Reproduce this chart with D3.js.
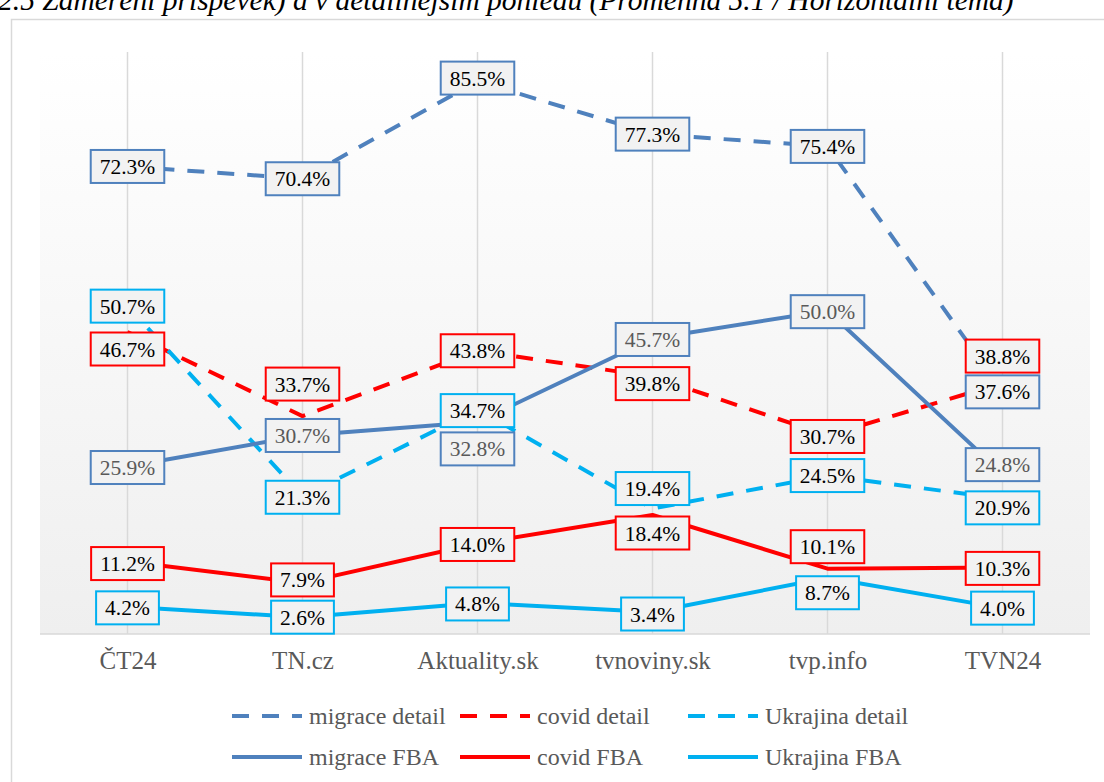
<!DOCTYPE html>
<html>
<head>
<meta charset="utf-8">
<script src="https://cdn.jsdelivr.net/npm/d3@7"></script>
<style>
  html, body { margin: 0; padding: 0; background: #fff; overflow: hidden; }
  svg text { font-family: "Liberation Serif", "Times New Roman", Tinos, "DejaVu Serif", serif !important; }
</style>
</head>
<body>
<svg id="chart" width="1104" height="782"></svg>
<script>
// data
var categories = ["ČT24", "TN.cz", "Aktuality.sk", "tvnoviny.sk", "tvp.info", "TVN24"];
var seriesNames = ["migrace detail", "covid detail", "Ukrajina detail", "migrace FBA", "covid FBA", "Ukrajina FBA"];
var migraceDetail = [72.3, 70.4, 85.5, 77.3, 75.4, 37.6];
var covidDetail = [46.7, 33.7, 43.8, 39.8, 30.7, 38.8];
var ukrajinaDetail = [50.7, 21.3, 34.7, 19.4, 24.5, 20.9];
var migraceFBA = [25.9, 30.7, 32.8, 45.7, 50.0, 24.8];
var covidFBA = [11.2, 7.9, 14.0, 18.4, 10.1, 10.3];
var ukrajinaFBA = [4.2, 2.6, 4.8, 3.4, 8.7, 4.0];
var titleText = "2.5 Zaměření příspěvek) a v detailnějším pohledu (Proměnná 5.1 / Horizontální téma)";

// label nudges (layout only, px) so boxes sit like in the original
var labelNudge = [
  [0, 0, -3, 0, 0, 1],
  [17, -32, 0, 7, 1, -27],
  [0, 1, 1, -20, 0, 9],
  [1, 0, 27, 1, 1, -9],
  [2, -3, 1, 18, -22, 1],
  [1, 0, 1, 2, 15, 0]
];

var colors = ["#4f81bd", "#ff0000", "#00b0f0", "#4f81bd", "#ff0000", "#00b0f0"];
var dashed = [true, true, true, false, false, false];
var labelTextColor = ["#000", "#000", "#000", "#595959", "#000", "#000"];
var allValues = [migraceDetail, covidDetail, ukrajinaDetail, migraceFBA, covidFBA, ukrajinaFBA];

var series = seriesNames.map((name, i) => ({
  name: name, color: colors[i], dashed: dashed[i], textColor: labelTextColor[i],
  values: allValues[i].map((v, j) => ({ cat: categories[j], v: v, nudge: labelNudge[i][j] }))
}));

var svg = d3.select("#chart");
var plot = { left: 40, right: 1090, top: 52, bottom: 634 };

// chart frame
svg.append("rect")
  .attr("x", 11.5).attr("y", 19.5).attr("width", 1200).attr("height", 900)
  .attr("fill", "#fff").attr("stroke", "#d9d9d9").attr("stroke-width", 1.5);

// title, cut off at the top edge like in the source
svg.append("text")
  .attr("x", -2).attr("y", 10)
  .attr("font-size", 29.5).attr("font-style", "italic").attr("fill", "#000")
  .text(titleText);

var x = d3.scalePoint().domain(categories).range([plot.left, plot.right]).padding(0.5);
var y = d3.scaleLinear().domain([0, 90]).range([plot.bottom, plot.top]);

// plot area gradient
var grad = svg.append("defs").append("linearGradient")
  .attr("id", "bg").attr("x1", 0).attr("y1", 0).attr("x2", 0).attr("y2", 1);
grad.append("stop").attr("offset", "0%").attr("stop-color", "#ffffff");
grad.append("stop").attr("offset", "100%").attr("stop-color", "#efefef");
svg.append("rect")
  .attr("x", plot.left).attr("y", plot.top)
  .attr("width", plot.right - plot.left).attr("height", plot.bottom - plot.top)
  .attr("fill", "url(#bg)");

// vertical gridlines at the categories
svg.append("g").selectAll("line").data(categories).join("line")
  .attr("x1", d => x(d)).attr("x2", d => x(d))
  .attr("y1", plot.top).attr("y2", plot.bottom)
  .attr("stroke", "#d9d9d9").attr("stroke-width", 1.5);

// category axis
var xAxis = svg.append("g")
  .attr("transform", "translate(0," + plot.bottom + ")")
  .call(d3.axisBottom(x).tickSize(0).tickPadding(17));
xAxis.attr("font-family", null);
xAxis.select(".domain").attr("stroke", "#d9d9d9").attr("stroke-width", 1.5)
  .attr("d", "M" + plot.left + ",0H" + plot.right);
xAxis.selectAll("text")
  .attr("font-size", 25).attr("fill", "#595959");

var line = d3.line().x(d => x(d.cat)).y(d => y(d.v));

svg.append("g").selectAll("path").data(series).join("path")
  .attr("d", d => line(d.values))
  .attr("fill", "none")
  .attr("stroke", d => d.color)
  .attr("stroke-width", 4)
  .attr("stroke-dasharray", d => d.dashed ? "17,13" : null)
  .attr("stroke-linejoin", "round");

// data labels in boxes
var labels = svg.append("g");
series.forEach(s => {
  s.values.forEach(p => {
    var g = labels.append("g")
      .attr("transform", "translate(" + x(p.cat) + "," + (y(p.v) + p.nudge) + ")");
    var box = g.append("rect");
    var t = g.append("text")
      .attr("text-anchor", "middle").attr("dy", "0.35em")
      .attr("font-size", 21.5).attr("fill", s.textColor)
      .text(p.v.toFixed(1) + "%");
    var w = t.node().getComputedTextLength() + 18;
    box.attr("x", -w / 2).attr("y", -16.5).attr("width", w).attr("height", 33)
      .attr("fill", "#f2f2f2").attr("stroke", s.color).attr("stroke-width", 2);
  });
});

// legend, two rows of three
var legend = svg.append("g").selectAll("g").data(series).join("g")
  .attr("transform", (d, i) => "translate(" + (232 + (i % 3) * 228) + "," + (i < 3 ? 716 : 757) + ")");
legend.append("line")
  .attr("x1", 0).attr("x2", 70).attr("y1", 0).attr("y2", 0)
  .attr("stroke", d => d.color).attr("stroke-width", 4)
  .attr("stroke-dasharray", d => d.dashed ? "17,13" : null);
legend.append("text")
  .attr("x", 77).attr("dy", "0.35em")
  .attr("font-size", 24).attr("fill", "#595959")
  .text(d => d.name);
</script>
</body>
</html>
